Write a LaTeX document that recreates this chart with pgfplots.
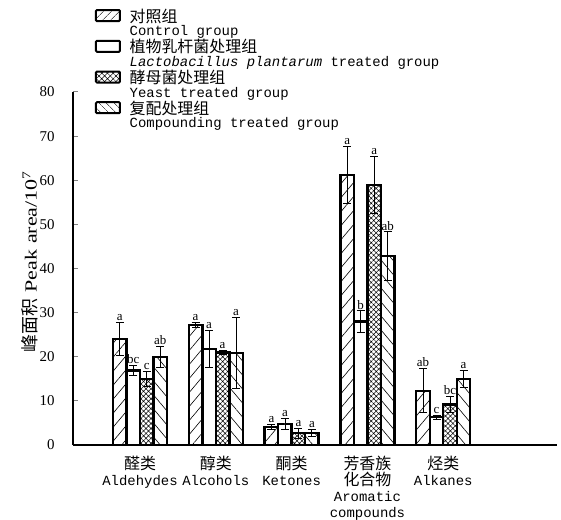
\documentclass[border=0pt]{standalone}
\usepackage{fontspec}
\setmainfont{Liberation Serif}
\setmonofont{Liberation Mono}
\newfontfamily\cjk{Noto Sans CJK SC}
\usepackage{pgfplots}
\usepackage{pgfplotstable}
\pgfplotsset{compat=1.18}
\usetikzlibrary{patterns.meta}

\pgfplotstableread{
x y e lab
-0.267 24.0 3.8 a
0.733 27.2 0.6 a
1.733 4.1 0.5 a
2.733 61.2 6.5 a
3.733 12.3 5.0 ab
}\control
\pgfplotstableread{
x y e lab
-0.089 16.9 1.2 bc
0.911 21.8 4.1 a
1.911 4.8 1.3 a
2.911 28.0 2.4 b
3.911 6.3 0.5 c
}\lacto
\pgfplotstableread{
x y e lab
0.089 15.0 1.7 c
1.089 21.0 0.5 a
2.089 2.7 1.1 a
3.089 58.9 6.5 a
4.089 9.2 1.8 bc
}\yeast
\pgfplotstableread{
x y e lab
0.267 20.0 2.4 ab
1.267 20.9 8.0 a
2.267 2.7 0.8 a
3.267 42.8 5.5 ab
4.267 15.0 1.9 a
}\compound

\tikzset{
  ctrlpat/.style={pattern={Lines[angle=50,distance=9bp,line width=0.6bp]}},
  yeastpat/.style={pattern={Hatch[angle=45,distance=3.5bp,line width=0.5bp]}},
  comppat/.style={pattern={Lines[angle=-50,distance=9bp,line width=0.6bp]}},
}
\pgfplotsset{
  mybar/.style={ybar, bar width=0.178, bar shift=0pt, draw=black, line width=2.4bp, forget plot,
    error bars/y dir=both, error bars/y explicit,
    error bars/error bar style={line width=0.8bp, solid},
    error bars/error mark options={rotate=90, mark size=4bp, line width=0.8bp}},
  mylab/.style={forget plot, draw=none, mark=none, nodes near coords, point meta=explicit symbolic,
    nodes near coords style={anchor=south, font=\fontsize{13}{13}\selectfont, inner sep=1.5bp}},
}

\begin{document}
\begin{tikzpicture}
\begin{axis}[
  name=ax,
  scale only axis, width=484bp, height=353bp,
  xmin=-0.884, xmax=5.50, ymin=0, ymax=80,
  axis x line*=bottom, axis y line*=left,
  axis line style={-, line width=1.6bp},
  ytick={0,10,...,80},
  tick align=inside,
  ytick style={line width=1bp},
  major tick length=5bp,
  xtick={0,1,2,3,4},
  xtick style={draw=none},
  xticklabels={
    {{\cjk\fontsize{16}{16}\selectfont 醛类}\\{\ttfamily Aldehydes}},
    {{\cjk\fontsize{16}{16}\selectfont 醇类}\\{\ttfamily Alcohols}},
    {{\cjk\fontsize{16}{16}\selectfont 酮类}\\{\ttfamily Ketones}},
    {{\cjk\fontsize{16}{16}\selectfont 芳香族}\\{\cjk\fontsize{16}{16}\selectfont 化合物}\\{\ttfamily Aromatic}\\{\ttfamily compounds}},
    {{\cjk\fontsize{16}{16}\selectfont 烃类}\\{\ttfamily Alkanes}}},
  xticklabel style={align=center, anchor=north, font=\fontsize{14}{16}\selectfont, yshift=-8bp},
  yticklabel style={font=\fontsize{15}{15}\selectfont, xshift=-15bp},
  /pgf/number format/assume math mode=true,
  ylabel={{\cjk\fontsize{18}{18}\selectfont 峰面积}\hspace{6bp}{\fontsize{17}{18}\selectfont\scalebox{1.3}[1]{Peak area/10\textsuperscript{7}}}},
  ylabel style={at={(axis description cs:-0.089,0.52)}, anchor=center},
  legend style={at={(axis description cs:0.045,1.241)}, anchor=north west, draw=none, fill=none,
    font=\fontsize{14}{14}\selectfont, row sep=-0.9bp, inner sep=0pt, nodes={inner sep=1.5bp}},
  legend cell align=left,
  clip=false,
]
\addplot[mybar, ctrlpat] table[x=x, y=y, y error=e] {\control};
\addplot[mybar, fill=white] table[x=x, y=y, y error=e] {\lacto};
\addplot[mybar, yeastpat] table[x=x, y=y, y error=e] {\yeast};
\addplot[mybar, comppat] table[x=x, y=y, y error=e] {\compound};

\addplot[mylab] table[x=x, y expr=\thisrow{y}+\thisrow{e}, meta=lab] {\control};
\addplot[mylab] table[x=x, y expr=\thisrow{y}+\thisrow{e}, meta=lab] {\lacto};
\addplot[mylab] table[x=x, y expr=\thisrow{y}+\thisrow{e}, meta=lab] {\yeast};
\addplot[mylab] table[x=x, y expr=\thisrow{y}+\thisrow{e}, meta=lab] {\compound};

\addlegendimage{legend image code/.code={\draw[line width=2bp, rounded corners=1bp, pattern={Lines[angle=45,distance=6bp,line width=0.6bp]}] (0bp,-5bp) rectangle (24bp,6bp); \path (32bp,0bp);}}
\addlegendentry{{\cjk\fontsize{16}{16}\selectfont 对照组}}
\addlegendimage{empty legend}
\addlegendentry{\ttfamily Control group}
\addlegendimage{legend image code/.code={\draw[line width=2bp, rounded corners=1bp, fill=white] (0bp,-5bp) rectangle (24bp,6bp); \path (32bp,0bp);}}
\addlegendentry{{\cjk\fontsize{16}{16}\selectfont 植物乳杆菌处理组}}
\addlegendimage{empty legend}
\addlegendentry{\ttfamily\textit{Lactobacillus plantarum} treated group}
\addlegendimage{legend image code/.code={\draw[line width=2bp, rounded corners=1bp, pattern={Hatch[angle=45,distance=4bp,line width=0.5bp]}] (0bp,-5bp) rectangle (24bp,6bp); \path (32bp,0bp);}}
\addlegendentry{{\cjk\fontsize{16}{16}\selectfont 酵母菌处理组}}
\addlegendimage{empty legend}
\addlegendentry{\ttfamily Yeast treated group}
\addlegendimage{legend image code/.code={\draw[line width=2bp, rounded corners=1bp, pattern={Lines[angle=-45,distance=6bp,line width=0.6bp]}] (0bp,-5bp) rectangle (24bp,6bp); \path (32bp,0bp);}}
\addlegendentry{{\cjk\fontsize{16}{16}\selectfont 复配处理组}}
\addlegendimage{empty legend}
\addlegendentry{\ttfamily Compounding treated group}
\end{axis}
\pgfresetboundingbox
\path[use as bounding box] ([xshift=-73bp,yshift=-75bp]ax.south west) rectangle ([xshift=488bp,yshift=445bp]ax.south west);
\end{tikzpicture}
\end{document}
